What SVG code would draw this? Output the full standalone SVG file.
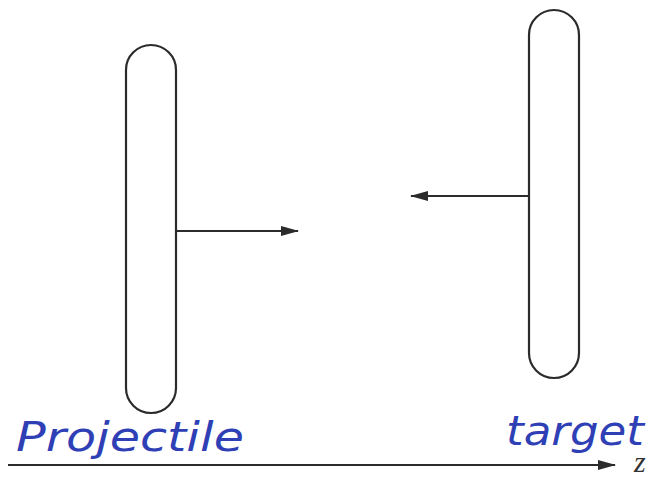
<svg xmlns="http://www.w3.org/2000/svg" width="657" height="477" viewBox="0 0 657 477">
<style>
.cap{fill:#fff;stroke:#2b2b2b;stroke-width:2.2}
.ln{stroke:#2b2b2b;stroke-width:2;fill:none}
.hand{font-family:"DejaVu Sans",sans-serif;font-style:italic;fill:#2f3fb5;font-size:40px}
</style>
<defs>
<marker id="ah2" markerWidth="18" markerHeight="10" refX="17" refY="5" orient="auto" markerUnits="userSpaceOnUse">
<path d="M0,0 L18,5 L0,10 Z" fill="#2b2b2b"/>
</marker>
</defs>
<rect width="657" height="477" fill="#fff"/>
<g id="projectile">
<rect class="cap" x="126" y="45" width="50" height="368" rx="25" ry="25"/>
</g>
<g id="target">
<rect class="cap" x="529" y="10" width="50" height="368" rx="25" ry="25"/>
</g>
<g id="connectors">
<line class="ln" x1="176" y1="231" x2="298" y2="231" marker-end="url(#ah2)"/>
<line class="ln" x1="529" y1="196" x2="411" y2="196" marker-end="url(#ah2)"/>
<line class="ln" x1="8" y1="465" x2="615" y2="465" marker-end="url(#ah2)"/>
</g>
<g id="labels">
<text class="hand" x="16" y="451" textLength="228" lengthAdjust="spacingAndGlyphs">Projectile</text>
<text class="hand" x="506" y="445" textLength="138" lengthAdjust="spacingAndGlyphs">target</text>
<text x="634" y="472" font-family="Liberation Serif,serif" font-style="italic" font-size="30" fill="#333">z</text>
</g>
</svg>
